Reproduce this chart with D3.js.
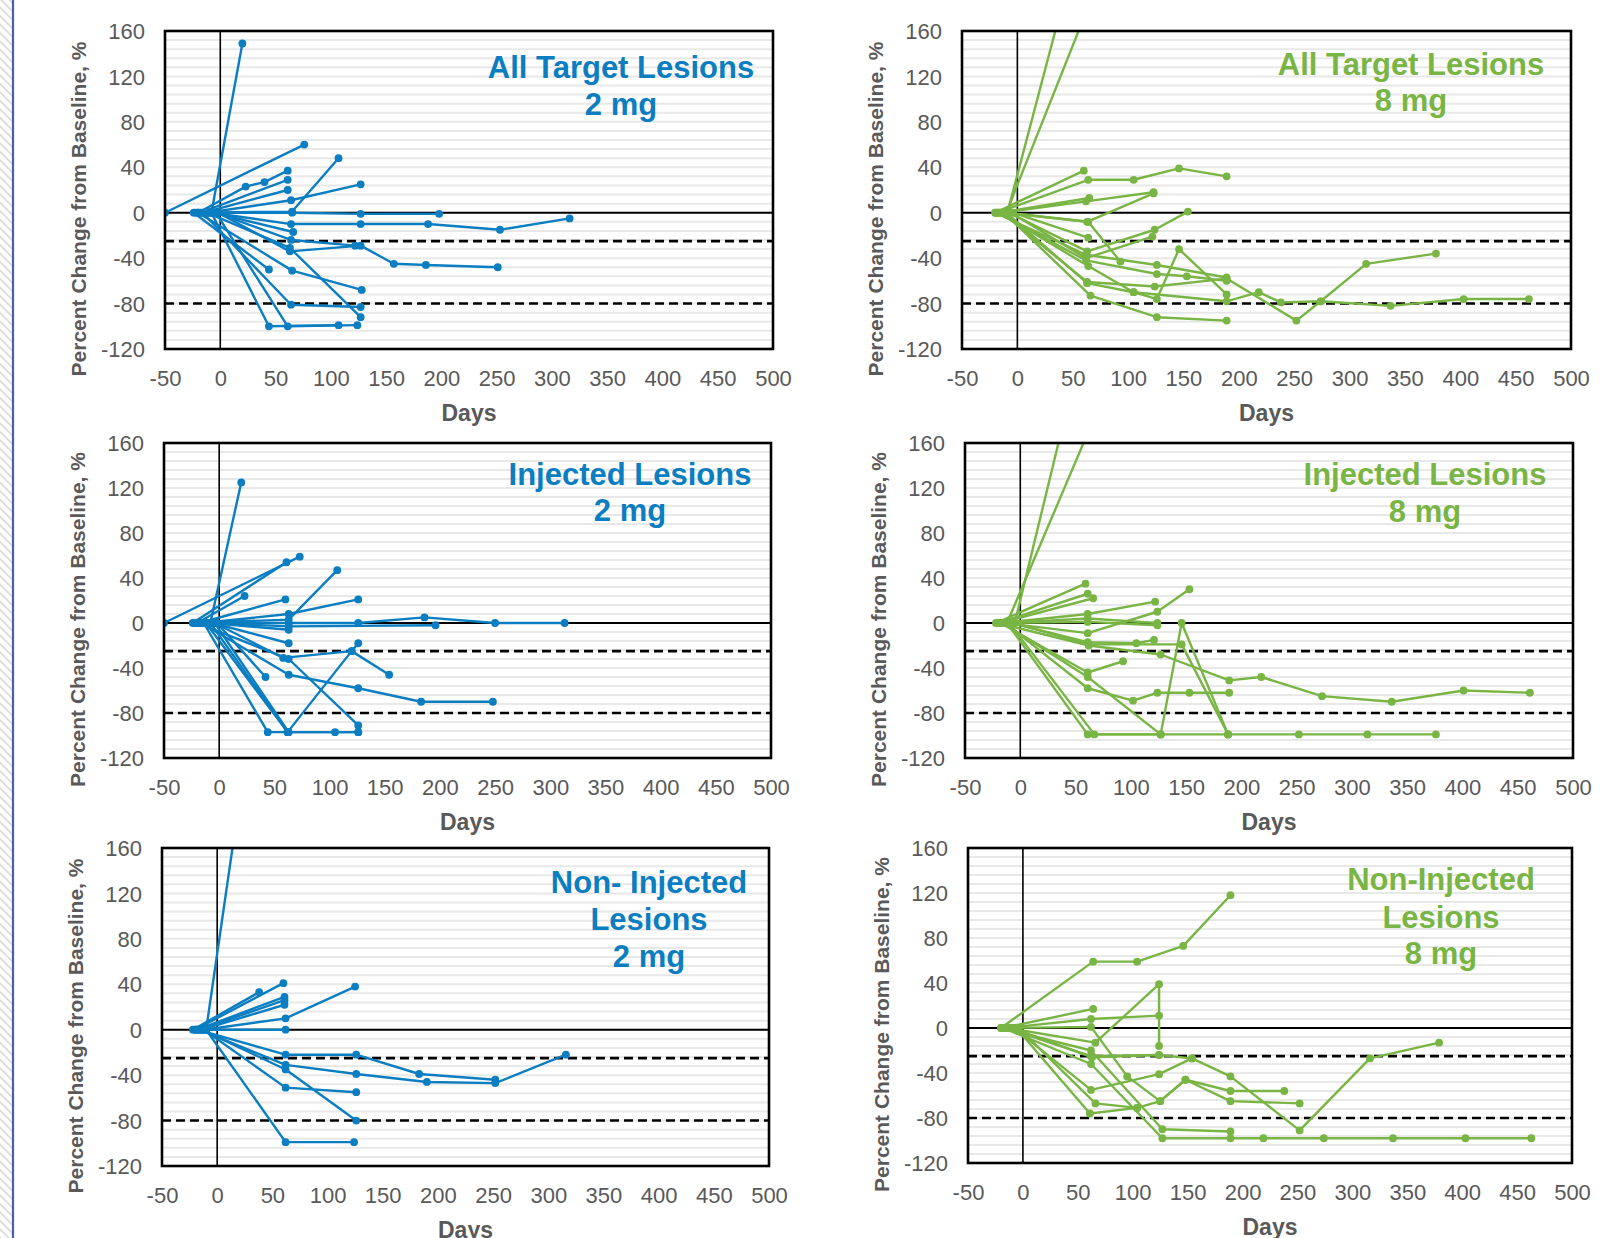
<!DOCTYPE html>
<html><head><meta charset="utf-8">
<script src="https://cdn.jsdelivr.net/npm/d3@7"></script>
<style>body{margin:0;background:#fff} svg{display:block}</style>
</head><body>
<svg id="chart" width="1600" height="1238"></svg>
<script>
// ---------- data ----------
const xTicks = [-50,0,50,100,150,200,250,300,350,400,450,500];
const yTicks = [-120,-80,-40,0,40,80,120,160];
const thresholds = [-25,-80];

const allTarget2mg = [
 [[-50,0],[76,60]],
 [[-8,0],[20,149]],
 [[-20,0],[23,23],[40,27],[61,37]],
 [[-18,0],[61,29]],
 [[-15,0],[61,20]],
 [[-12,0],[64,11],[127,25]],
 [[-22,0],[65,1],[107,48]],
 [[-10,0],[65,0],[127,-1],[198,-1]],
 [[-8,0],[64,-10],[127,-10],[188,-10],[253,-15],[316,-5]],
 [[-6,0],[66,-17]],
 [[-4,0],[64,-24],[122,-29]],
 [[-2,0],[63,-34],[127,-29],[157,-45],[186,-46],[251,-48]],
 [[-24,0],[44,-50]],
 [[-20,0],[65,-51],[128,-68]],
 [[-16,0],[64,-81],[127,-83]],
 [[-12,0],[63,-31],[127,-92]],
 [[-8,0],[44,-100],[107,-99]],
 [[-4,0],[61,-100],[124,-99]]
];

const allTarget8mg = [
 [[-9,0],[61,259]],
 [[-10,0],[61,174]],
 [[-20,0],[60,37]],
 [[-18,0],[64,29],[105,29],[146,39],[189,32]],
 [[-16,0],[65,13]],
 [[-14,0],[62,10],[123,18]],
 [[-12,0],[63,-8],[123,17]],
 [[-10,0],[64,-8],[93,-43]],
 [[-8,0],[63,-34],[124,-15],[154,1]],
 [[-6,0],[62,-40],[122,-21]],
 [[-4,0],[64,-22]],
 [[-20,0],[62,-37],[126,-46],[189,-57]],
 [[-18,0],[62,-42],[126,-54],[153,-56],[189,-60]],
 [[-16,0],[64,-47],[105,-70],[126,-76],[146,-32],[189,-72]],
 [[-14,0],[63,-61],[124,-65],[189,-58],[252,-95],[274,-78],[315,-45],[378,-36]],
 [[-12,0],[66,-73],[126,-92],[189,-95]],
 [[-10,0],[63,-62],[105,-70],[189,-78],[218,-70],[238,-79],[274,-78],[337,-82],[403,-76],[462,-76]]
];

const injected2mg = [
 [[-50,0],[73,59]],
 [[-24,0],[61,54]],
 [[-8,0],[20,125]],
 [[-20,0],[23,24]],
 [[-18,0],[60,21]],
 [[-15,0],[63,8],[126,21]],
 [[-22,0],[63,3],[107,47]],
 [[-12,0],[63,0],[126,0],[186,5],[250,0],[313,0]],
 [[-10,0],[63,-3],[196,-2]],
 [[-8,0],[63,-6]],
 [[-6,0],[63,-18]],
 [[-4,0],[58,-31],[120,-25],[154,-46]],
 [[-20,0],[63,-32],[126,-91]],
 [[-2,0],[42,-48]],
 [[-16,0],[63,-46],[126,-58],[183,-70],[248,-70]],
 [[-14,0],[44,-97],[105,-97],[126,-97]],
 [[-12,0],[62,-97],[120,-25],[126,-18]],
 [[-8,0],[62,-97],[126,-97]],
 [[-4,0],[63,-97]]
];

const injected8mg = [
 [[-5,0],[62,271]],
 [[-12,0],[62,171]],
 [[-22,0],[59,35]],
 [[-20,0],[61,26]],
 [[-18,0],[66,22]],
 [[-16,0],[61,8],[122,19]],
 [[-14,0],[61,-9],[124,10],[153,30]],
 [[-12,0],[61,4],[124,0]],
 [[-10,0],[61,1],[124,-2]],
 [[-8,0],[61,-17],[105,-18],[121,-15]],
 [[-6,0],[62,-19],[146,-19],[188,-99],[252,-99],[314,-99],[376,-99]],
 [[-20,0],[62,-20],[127,-28],[189,-51],[218,-48],[273,-65],[336,-70],[401,-60],[461,-62]],
 [[-18,0],[61,-44],[93,-34]],
 [[-16,0],[61,-48],[127,-99],[146,0],[188,-99]],
 [[-14,0],[61,-58],[102,-69],[124,-62],[153,-62],[189,-62]],
 [[-12,0],[61,-99],[127,-99]],
 [[-10,0],[67,-99],[127,-99],[188,-99]]
];

const nonInjected2mg = [
 [[-10,0],[20,201]],
 [[-22,0],[38,33]],
 [[-20,0],[60,41]],
 [[-18,0],[61,29]],
 [[-16,0],[61,26]],
 [[-14,0],[61,22]],
 [[-12,0],[62,10],[125,38]],
 [[-20,0],[62,0]],
 [[-18,0],[62,-22],[126,-22],[183,-39],[252,-44]],
 [[-16,0],[62,-31],[126,-39],[190,-46],[252,-47],[316,-22]],
 [[-14,0],[62,-35],[126,-80]],
 [[-12,0],[62,-51],[126,-55]],
 [[-10,0],[62,-99],[124,-99]]
];

const nonInjected8mg = [
 [[-20,0],[64,59],[104,59],[146,73],[189,118]],
 [[-18,0],[64,17]],
 [[-16,0],[62,8],[124,11]],
 [[-14,0],[66,-13],[124,39],[124,-16]],
 [[-12,0],[62,1],[95,-43],[125,-65],[148,-46],[189,-56],[238,-56]],
 [[-10,0],[63,-26],[124,-24],[154,-27],[189,-43],[252,-91],[316,-27],[379,-13]],
 [[-8,0],[62,-55],[124,-41],[154,-27]],
 [[-6,0],[61,-76],[104,-71],[125,-65],[148,-46],[189,-65],[252,-67]],
 [[-20,0],[62,-20],[127,-90],[189,-92]],
 [[-18,0],[62,-32],[127,-98],[189,-98],[219,-98],[274,-98],[337,-98],[403,-98],[463,-98]],
 [[-16,0],[62,-25],[124,-24]],
 [[-4,0],[66,-67],[104,-71]]
];

// ---------- layout ----------
const BLUE = "#0b7dc1", GREEN = "#79b544";
const panels = [
 {data: allTarget2mg, color: BLUE, f:{x0:165,x1:773,y0:31,y1:349}, title:["All Target Lesions","2 mg"], tx:621, ty:[78,115]},
 {data: allTarget8mg, color: GREEN, f:{x0:962,x1:1571,y0:31,y1:349}, title:["All Target Lesions","8 mg"], tx:1411, ty:[75,111]},
 {data: injected2mg, color: BLUE, f:{x0:164,x1:771,y0:443,y1:758}, title:["Injected Lesions","2 mg"], tx:630, ty:[485,521]},
 {data: injected8mg, color: GREEN, f:{x0:965,x1:1573,y0:443,y1:758}, title:["Injected Lesions","8 mg"], tx:1425, ty:[485,522]},
 {data: nonInjected2mg, color: BLUE, f:{x0:162,x1:769,y0:848,y1:1166}, title:["Non- Injected","Lesions","2 mg"], tx:649, ty:[893,930,967]},
 {data: nonInjected8mg, color: GREEN, f:{x0:968,x1:1572,y0:848,y1:1163}, title:["Non-Injected","Lesions","8 mg"], tx:1441, ty:[890,928,964]}
];

const FONT = "'Liberation Sans', Arial, sans-serif";
const svg = d3.select("#chart");
svg.append("rect").attr("width",1600).attr("height",1238).attr("fill","#fff");

// left decorative border
const defs = svg.append("defs");
const pat = defs.append("pattern").attr("id","hatch").attr("width",6).attr("height",6)
  .attr("patternUnits","userSpaceOnUse").attr("patternTransform","rotate(-45)");
pat.append("rect").attr("width",6).attr("height",6).attr("fill","#fff");
pat.append("line").attr("x1",0).attr("y1",0).attr("x2",0).attr("y2",6).attr("stroke","#d4d4d4").attr("stroke-width",3);
svg.append("rect").attr("x",0).attr("y",0).attr("width",12).attr("height",1238).attr("fill","url(#hatch)");
svg.append("line").attr("x1",13).attr("x2",13).attr("y1",0).attr("y2",1238).attr("stroke","#4562aa").attr("stroke-width",2.2);

const fmt = d => String(d);

panels.forEach((p,i) => {
  const {x0,x1,y0,y1} = p.f;
  const x = d3.scaleLinear().domain([-50,500]).range([x0,x1]);
  const y = d3.scaleLinear().domain([-120,160]).range([y1,y0]);
  const g = svg.append("g");

  // minor gridlines
  g.append("g").selectAll("line").data(d3.range(-112,160,8)).join("line")
    .attr("x1",x0).attr("x2",x1).attr("y1",d=>y(d)).attr("y2",d=>y(d))
    .attr("stroke","#e8e8e8").attr("stroke-width",2);

  // axes
  const ya = g.append("g").attr("transform",`translate(${x0},0)`)
    .call(d3.axisLeft(y).tickValues(yTicks).tickSize(0).tickPadding(20).tickFormat(fmt));
  const xa = g.append("g").attr("transform",`translate(0,${y1})`)
    .call(d3.axisBottom(x).tickValues(xTicks).tickSize(0).tickPadding(21).tickFormat(fmt));
  [ya,xa].forEach(a => {
    a.select(".domain").remove();
    a.selectAll("text").attr("font-family",FONT).attr("font-size",22).attr("fill","#595959");
  });
  ya.selectAll("text").attr("dy","0.35em");

  // axis titles
  g.append("text").attr("transform",`translate(${x0-79},${(y0+y1)/2+19}) rotate(-90)`)
    .attr("text-anchor","middle").attr("font-family",FONT).attr("font-weight","bold")
    .attr("font-size",21).attr("fill","#595959").text("Percent Change from Baseline, %");
  g.append("text").attr("x",(x0+x1)/2).attr("y",y1+72).attr("text-anchor","middle")
    .attr("font-family",FONT).attr("font-weight","bold").attr("font-size",23).attr("fill","#595959").text("Days");

  // reference lines
  g.append("line").attr("x1",x(0)).attr("x2",x(0)).attr("y1",y0).attr("y2",y1).attr("stroke","#000").attr("stroke-width",1.6);
  g.append("line").attr("x1",x0).attr("x2",x1).attr("y1",y(0)).attr("y2",y(0)).attr("stroke","#000").attr("stroke-width",2);
  g.append("g").selectAll("line").data(thresholds).join("line")
    .attr("x1",x0).attr("x2",x1).attr("y1",d=>y(d)).attr("y2",d=>y(d))
    .attr("stroke","#000").attr("stroke-width",2.6).attr("stroke-dasharray","9,5");

  // title
  const t = g.append("text").attr("font-family",FONT).attr("font-weight","bold").attr("font-size",31)
    .attr("fill",p.color).attr("text-anchor","middle");
  p.title.forEach((s,k) => t.append("tspan").attr("x",p.tx).attr("y",p.ty[k]).text(s));

  // series
  const cid = "clip"+i;
  defs.append("clipPath").attr("id",cid).append("rect").attr("x",x0).attr("y",y0).attr("width",x1-x0).attr("height",y1-y0);
  const sg = g.append("g").attr("clip-path",`url(#${cid})`);
  const line = d3.line().x(d=>x(d[0])).y(d=>y(d[1]));
  sg.selectAll("path").data(p.data).join("path").attr("d",line)
    .attr("fill","none").attr("stroke",p.color).attr("stroke-width",2.4).attr("stroke-linejoin","round");
  sg.selectAll("circle").data(p.data.flat()).join("circle")
    .attr("cx",d=>x(d[0])).attr("cy",d=>y(d[1])).attr("r",3.9).attr("fill",p.color);

  // frame
  g.append("rect").attr("x",x0).attr("y",y0).attr("width",x1-x0).attr("height",y1-y0)
    .attr("fill","none").attr("stroke","#000").attr("stroke-width",2.6);
});
</script>
</body></html>
